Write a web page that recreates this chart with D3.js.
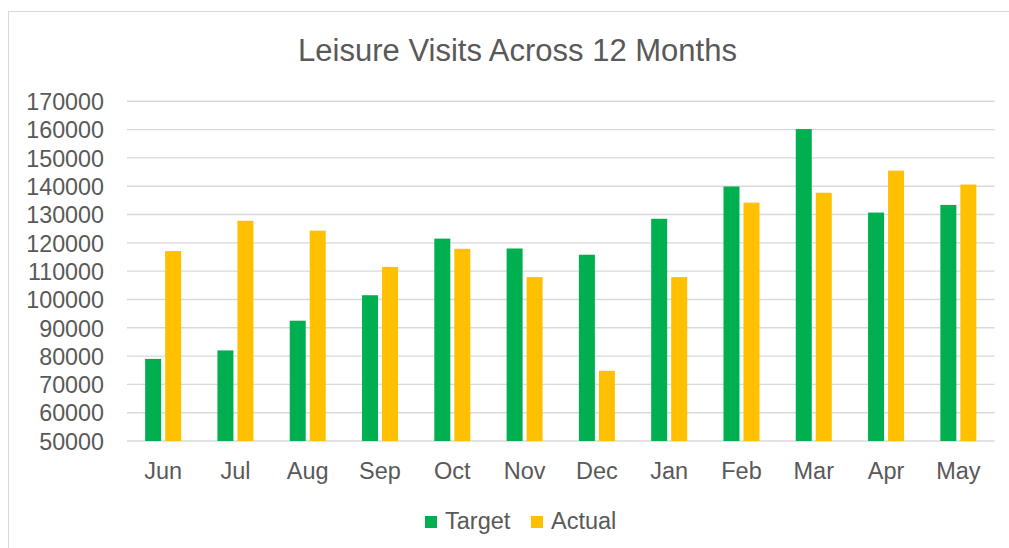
<!DOCTYPE html>
<html>
<head>
<meta charset="utf-8">
<script src="https://cdn.jsdelivr.net/npm/d3@7"></script>
<style>
	body { margin: 0; background: #fff; }
	text { font-family: "Liberation Sans", Arial, sans-serif; fill: #595959; }
</style>
</head>
<body>
<script>
// values
var months = ['Jun', 'Jul', 'Aug', 'Sep', 'Oct', 'Nov', 'Dec', 'Jan', 'Feb', 'Mar', 'Apr', 'May']
var series = ['Target', 'Actual']
var target = [79000, 82000, 92500, 101500, 121500, 118000, 115800, 128500, 139900, 160200, 130700, 133400]
var actual = [117100, 127800, 124300, 111500, 117900, 107900, 74800, 107900, 134200, 137700, 145500, 140600]
var y_ticks = [50000, 60000, 70000, 80000, 90000, 100000, 110000, 120000, 130000, 140000, 150000, 160000, 170000]
var colors = {Target: '#00B050', Actual: '#FFC000'}

var width = 1009, height = 548
var plot_left = 127, plot_right = 994.5, plot_top = 101.3, plot_bottom = 441

var svg = d3.select('body').append('svg').attr('width', width).attr('height', height)

// chart border (runs off the right and bottom of the picture)
svg.append('rect')
	.attr('x', 8.5).attr('y', 11.5).attr('width', 1020).attr('height', 560)
	.attr('fill', 'none').attr('stroke', '#D9D9D9').attr('stroke-width', 1)

svg.append('text')
	.attr('x', 517.5).attr('y', 61)
	.attr('text-anchor', 'middle')
	.style('font-size', '31px')
	.text('Leisure Visits Across 12 Months')

var x = d3.scaleBand().domain(months).range([plot_left, plot_right])
var x_inner = d3.scaleBand().domain(series).range([-18, 18]).paddingInner(0.2)
var y = d3.scaleLinear().domain([50000, 170000]).range([plot_bottom, plot_top])

// gridlines
svg.append('g').selectAll('line').data(y_ticks).enter().append('line')
	.attr('x1', plot_left).attr('x2', plot_right)
	.attr('y1', d => y(d)).attr('y2', d => y(d))
	.attr('stroke', '#D9D9D9').attr('stroke-width', 1.4)

// y tick labels
svg.append('g').selectAll('text').data(y_ticks).enter().append('text')
	.attr('x', 104).attr('y', d => y(d) + 8.8)
	.attr('text-anchor', 'end')
	.style('font-size', '23.3px')
	.text(d => d)

var rows = months.map((m, i) => ({month: m, Target: target[i], Actual: actual[i]}))

var groups = svg.append('g').selectAll('g').data(rows).enter().append('g')
	.attr('transform', d => 'translate(' + (x(d.month) + x.bandwidth() / 2) + ',0)')

groups.selectAll('rect').data(d => series.map(s => ({key: s, val: d[s]}))).enter().append('rect')
	.attr('x', d => x_inner(d.key))
	.attr('y', d => y(d.val))
	.attr('width', x_inner.bandwidth())
	.attr('height', d => y(50000) - y(d.val))
	.attr('fill', d => colors[d.key])

// x labels
svg.append('g').selectAll('text').data(months).enter().append('text')
	.attr('x', d => x(d) + x.bandwidth() / 2)
	.attr('y', 479.3)
	.attr('text-anchor', 'middle')
	.style('font-size', '23.5px')
	.text(d => d)

// legend
var legend_x = {Target: 425, Actual: 531}
var lg = svg.append('g').selectAll('g').data(series).enter().append('g')
	.attr('transform', d => 'translate(' + legend_x[d] + ',0)')
lg.append('rect').attr('x', 0).attr('y', 516).attr('width', 12).attr('height', 12)
	.attr('fill', d => colors[d])
lg.append('text').attr('x', 20).attr('y', 529.3)
	.style('font-size', '23.5px')
	.text(d => d)
</script>
</body>
</html>
